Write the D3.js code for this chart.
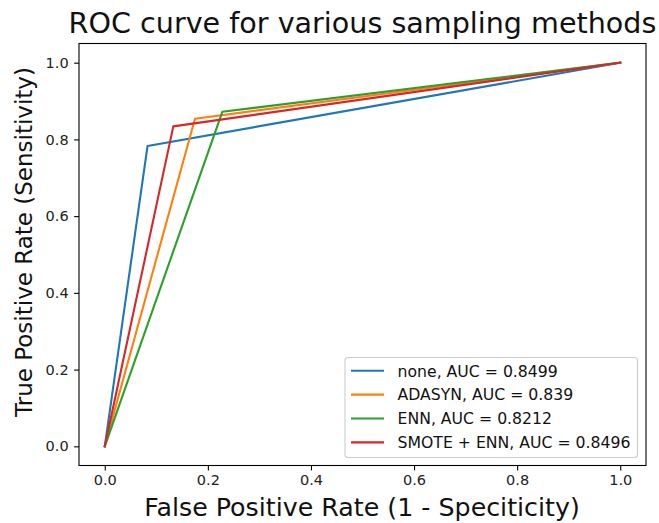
<!DOCTYPE html>
<html>
<head>
<meta charset="utf-8">
<script src="https://cdn.jsdelivr.net/npm/d3@7"></script>
<style>
  body { margin: 0; background: #fff; }
  svg { font-family: "DejaVu Sans", sans-serif; }
</style>
</head>
<body>
<div id="chart"></div>
<script>
// series names and legend labels
const methods = ['none', 'ADASYN', 'ENN', 'SMOTE + ENN'];
const aucLabels = ['0.8499', '0.839', '0.8212', '0.8496'];
const colors = ['#1f77b4', '#ff7f0e', '#2ca02c', '#d62728'];

// ROC points (fpr, tpr), one array per method
const fprNone = [0, 0.083, 1];
const tprNone = [0, 0.783, 1];
const fprAdasyn = [0, 0.175, 1];
const tprAdasyn = [0, 0.854, 1];
const fprEnn = [0, 0.228, 1];
const tprEnn = [0, 0.872, 1];
const fprSmoteEnn = [0, 0.133, 1];
const tprSmoteEnn = [0, 0.834, 1];

const xTicks = [0, 0.2, 0.4, 0.6, 0.8, 1.0];
const yTicks = [0, 0.2, 0.4, 0.6, 0.8, 1.0];

const seriesFpr = [fprNone, fprAdasyn, fprEnn, fprSmoteEnn];
const seriesTpr = [tprNone, tprAdasyn, tprEnn, tprSmoteEnn];

const width = 659, height = 523;
const plotLeft = 79, plotRight = 646, plotTop = 43.5, plotBottom = 465.5;

const svg = d3.select('#chart').append('svg')
  .attr('width', width)
  .attr('height', height);

const x = d3.scaleLinear().domain([-0.05, 1.05]).range([plotLeft, plotRight]);
const y = d3.scaleLinear().domain([-0.05, 1.05]).range([plotBottom, plotTop]);

// lines, drawn in legend order so red sits on top
const line = d3.line().x(d => x(d[0])).y(d => y(d[1]));
methods.forEach((m, i) => {
  const pts = seriesFpr[i].map((f, j) => [f, seriesTpr[i][j]]);
  svg.append('path')
    .datum(pts)
    .attr('d', line)
    .attr('fill', 'none')
    .attr('stroke', colors[i])
    .attr('stroke-width', 2.1)
    .attr('stroke-linejoin', 'round')
    .attr('stroke-linecap', 'square');
});

// axes
const xAxis = d3.axisBottom(x).tickValues(xTicks).tickFormat(d3.format('.1f')).tickSize(4.9).tickPadding(4.5);
const yAxis = d3.axisLeft(y).tickValues(yTicks).tickFormat(d3.format('.1f')).tickSize(4.9).tickPadding(5.5);

const gx = svg.append('g').attr('transform', `translate(0,${plotBottom})`).call(xAxis);
const gy = svg.append('g').attr('transform', `translate(${plotLeft},0)`).call(yAxis);
[gx, gy].forEach(g => {
  g.select('.domain').remove();
  g.selectAll('line').attr('stroke', '#000').attr('stroke-width', 1.1);
  g.selectAll('text').attr('fill', '#222').style('font-size', '14.5px').style('font-family', '"DejaVu Sans", sans-serif');
});

// frame
svg.append('rect')
  .attr('x', plotLeft).attr('y', plotTop)
  .attr('width', plotRight - plotLeft).attr('height', plotBottom - plotTop)
  .attr('fill', 'none').attr('stroke', '#000').attr('stroke-width', 1.1);

// title and labels
svg.append('text')
  .attr('x', (plotLeft + plotRight) / 2).attr('y', 33)
  .attr('text-anchor', 'middle')
  .attr('fill', '#111')
  .style('font-size', '28.6px')
  .text('ROC curve for various sampling methods');

svg.append('text')
  .attr('x', 362).attr('y', 516)
  .attr('text-anchor', 'middle')
  .attr('fill', '#111')
  .style('font-size', '25.3px')
  .text('False Positive Rate (1 - Speciticity)');

svg.append('text')
  .attr('transform', `translate(31.5,242) rotate(-90)`)
  .attr('text-anchor', 'middle')
  .attr('fill', '#111')
  .style('font-size', '23px')
  .text('True Positive Rate (Sensitivity)');

// legend
const legend = svg.append('g');
legend.append('rect')
  .attr('x', 345).attr('y', 357.5)
  .attr('width', 292.5).attr('height', 100)
  .attr('rx', 3)
  .attr('fill', '#fff').attr('fill-opacity', 0.8)
  .attr('stroke', '#ccc').attr('stroke-width', 1.1);

methods.forEach((m, i) => {
  const ly = 370.7 + i * 23.9;
  legend.append('line')
    .attr('x1', 351).attr('x2', 384)
    .attr('y1', ly).attr('y2', ly)
    .attr('stroke', colors[i]).attr('stroke-width', 2.1);
  legend.append('text')
    .attr('x', 397.5).attr('y', ly + 5.8)
    .attr('fill', '#111')
    .style('font-size', '15.7px')
    .text(`${m}, AUC = ${aucLabels[i]}`);
});
</script>
</body>
</html>
